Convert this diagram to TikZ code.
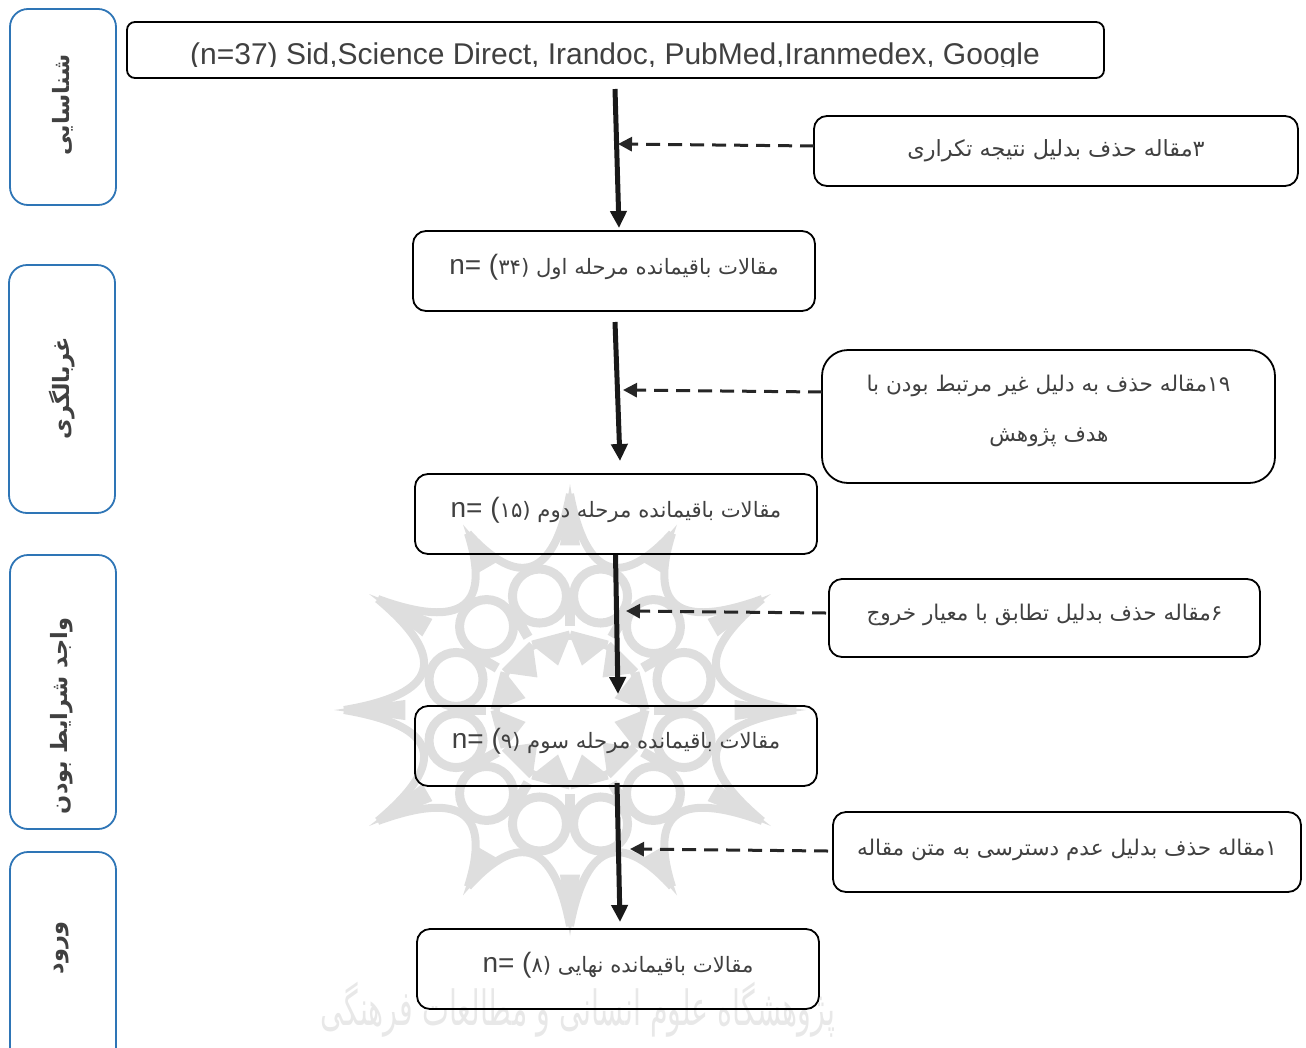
\documentclass[tikz,border=0pt]{standalone}
\usepackage{fontspec}
\setmainfont{Liberation Sans}
\newfontfamily\ar[Script=Arabic]{DejaVu Sans}
\TeXXeTstate=1
\usetikzlibrary{arrows.meta}
\definecolor{txt}{HTML}{404040}
\definecolor{wmc}{HTML}{DEDEDE}
\definecolor{side}{HTML}{2E75B6}
\tikzset{
 boxbase/.style={draw=black,line width=1.8pt,inner sep=0pt,outer sep=0pt,text=txt,align=center},
 mainbox/.style={boxbase,rounded corners=13pt},
 sidebox/.style={draw=side,line width=1.8pt,rounded corners=18pt,inner sep=0pt,outer sep=0pt},
 sidetxt/.style={rotate=90,inner sep=0pt,text=txt,font=\ar\bfseries\fontsize{22.5}{26}\selectfont},
 linetxt/.style={inner sep=0pt,text=txt},
 flow/.style={line width=5pt,draw=black!90,-{Triangle[length=17pt,width=16pt]}},
 cut/.style={line width=3pt,draw=black!85,dash pattern=on 14pt off 8pt,-{Triangle[length=14pt,width=14pt]}},
 wm/.style={draw=wmc,line width=8pt},
}
\newcommand{\rl}[1]{{\ar\fontsize{21.6}{26}\selectfont #1}}
\newcommand{\rlb}[1]{{\ar\fontsize{21.2}{26}\selectfont #1}}
\newcommand{\remain}[3]{\raisebox{#1}{{\fontsize{28}{32}\selectfont n= (}{\ar\fontsize{21.2}{26}\selectfont #2}\rlb{#3}}}
\begin{document}
\begin{tikzpicture}[x=1pt,y=-1pt]
\useasboundingbox (0,0) rectangle (1306,1047);
\clip (0,0) rectangle (1306,1047);
% watermark
\begin{scope}[shift={(570,710)}]
\foreach \a/\r/\s in {0/236/232,30/232/214,60/214/226,90/226/214,120/214/232,150/232/236,180/236/232,210/232/214,240/214/226,270/226/214,300/214/232,330/232/236}{
  \draw[wm] (\a:\r-10) .. controls (\a+7:132) and (\a+23:132) .. (\a+30:\s-10);
  \fill[wmc] (\a:\r) -- (\a+3.5:165) -- (\a-3.5:165) -- cycle;
  \draw[wm,line width=9pt] (\a+15:118) circle (27);
  \draw[wm,line width=10pt] (\a:84) -- (\a:112);
  \draw[wm,line width=9pt] (\a:75) -- (\a+30:75);
  \fill[wmc] (\a:74) -- (\a+15:46) -- (\a+30:74) -- cycle;
}
\end{scope}
\node[inner sep=0pt,text=wmc!70!white,yscale=1.7] (wmtext) at (578,1010) {\ar\fontsize{28.5}{34}\selectfont\beginR پژوهشگاه علوم انسانی و مطالعات فرهنگی\endR};
% side boxes
\node[sidebox,minimum width=106pt,minimum height=196pt] (s1) at (63,107) {};
\node[sidebox,minimum width=106pt,minimum height=248pt] (s2) at (62,389) {};
\node[sidebox,minimum width=106pt,minimum height=274pt] (s3) at (63,692) {};
\node[sidebox,minimum width=106pt,minimum height=240pt] (s4) at (63,972) {};
\node[sidetxt] (t1) at (63,105) {\beginR شناسایی\endR};
\node[sidetxt] (t2) at (62,388) {\beginR غربالگری\endR};
\node[sidetxt] (t3) at (62,716) {\beginR واجد شرایط بودن\endR};
\node[sidetxt] (t4) at (62,948) {\beginR ورود\endR};
% main column
\node[mainbox,rounded corners=8pt,minimum width=977pt,minimum height=56pt] (top) at (615.5,50) {};
\begin{scope}
\clip (130,24) rectangle (1100,66.5);
\node[inner sep=0pt,text=txt,anchor=base] (toptext) at (615,64) {\fontsize{30}{33}\selectfont (n=37) Sid,Science Direct, Irandoc, PubMed,Iranmedex, Google};
\end{scope}
\node[mainbox,minimum width=402pt,minimum height=80pt] (b1) at (614,271) {\remain{13pt}{۳۴}{\beginR مقالات باقیمانده مرحله اول (\endR}};
\node[mainbox,minimum width=402pt,minimum height=80pt] (b2) at (616,514) {\remain{13pt}{۱۵}{\beginR مقالات باقیمانده مرحله دوم (\endR}};
\node[mainbox,minimum width=402pt,minimum height=80pt] (b3) at (616,746) {\remain{15pt}{۹}{\beginR مقالات باقیمانده مرحله سوم (\endR}};
\node[mainbox,minimum width=402pt,minimum height=80pt] (b4) at (618,969) {\remain{13pt}{۸}{\beginR مقالات باقیمانده نهایی (\endR}};
% right column
\node[mainbox,minimum width=484pt,minimum height=70pt] (r1) at (1056,151) {\raisebox{0pt}{{\ar\fontsize{22.3}{26}\selectfont\beginR ۳مقاله حذف بدلیل نتیجه تکراری\endR}}};
\node[mainbox,rounded corners=26pt,minimum width=453pt,minimum height=133pt] (r2) at (1048.5,416.5) {};
\node[linetxt] (r2a) at (1048.5,386) {\rl{\beginR ۱۹مقاله حذف به دلیل غیر مرتبط بودن با\endR}};
\node[linetxt] (r2b) at (1049,437) {\rl{\beginR هدف پژوهش\endR}};
\node[mainbox,minimum width=431pt,minimum height=78pt] (r3) at (1044.5,618) {\raisebox{11pt}{\rl{\beginR ۶مقاله حذف بدلیل تطابق با معیار خروج\endR}}};
\node[mainbox,minimum width=468pt,minimum height=80pt] (r4) at (1067,852) {\raisebox{10pt}{\rl{\beginR ۱مقاله حذف بدلیل عدم دسترسی به متن مقاله\endR}}};
% flow arrows
\draw[flow] ([shift={(-0.5,11)}]top.south) -- ([shift={(5,-3)}]b1.north);
\draw[flow] ([shift={(1,11)}]b1.south) -- ([shift={(4,-13)}]b2.north);
\draw[flow] ([shift={(-0.5,1)}]b2.south) -- ([shift={(2,-12)}]b3.north);
\draw[flow] ([shift={(1,-3)}]b3.south) -- ([shift={(2,-7)}]b4.north);
% removal arrows
\coordinate (j1) at (618,144);
\coordinate (j2) at (623,390);
\coordinate (j3) at (626,611);
\coordinate (j4) at (630,849);
\draw[cut] ([shift={(0,-5)}]r1.west) -- (j1);
\draw[cut] ([shift={(0,-24.5)}]r2.west) -- (j2);
\draw[cut] ([shift={(-3,-5)}]r3.west) -- (j3);
\draw[cut] ([shift={(-5,-1)}]r4.west) -- (j4);
\end{tikzpicture}
\end{document}
